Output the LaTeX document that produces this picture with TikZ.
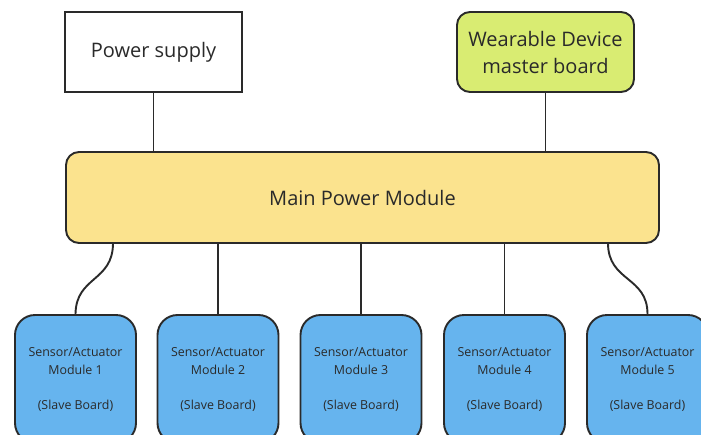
\documentclass[tikz,border=0pt]{standalone}
\usepackage{fontspec}
\setmainfont{Open Sans}
\definecolor{inkgray}{HTML}{2A2A2A}
\definecolor{mainyellow}{HTML}{FBE38E}
\definecolor{mastergreen}{HTML}{D9EC72}
\definecolor{slaveblue}{HTML}{66B4EE}
\begin{document}
\begin{tikzpicture}[x=1pt,y=-1pt,
  box/.style={draw=inkgray,line width=1.9pt,text=inkgray,align=center,inner sep=0pt},
  wire/.style={draw=inkgray,line width=1.9pt},
  slave/.style={box,fill=slaveblue,rounded corners=20pt,minimum width=121pt,minimum height=128pt,font=\fontsize{12.4}{18}\selectfont}]
\useasboundingbox (0,0) rectangle (701,434);
\fill[white] (0,0) rectangle (701,434);
% upper boxes
\node[box,minimum width=177pt,minimum height=80pt,font=\fontsize{20}{27}\selectfont] (ps) at (153.5,52) {\raisebox{-3pt}{Power supply}};
\node[box,fill=mastergreen,rounded corners=13pt,minimum width=177pt,minimum height=80pt,font=\fontsize{20}{27}\selectfont] (wd) at (545.5,52) {Wearable Device\\master board};
% main power module
\node[box,fill=mainyellow,rounded corners=13pt,minimum width=593pt,minimum height=91pt,font=\fontsize{20}{24}\selectfont] (main) at (362.5,197.5) {\raisebox{-2pt}{Main Power Module}};
% slave boards
\node[slave] (m1) at (75.5,379) {Sensor/Actuator\\Module 1\\[17pt](Slave Board)};
\node[slave] (m2) at (218,379) {Sensor/Actuator\\Module 2\\[17pt](Slave Board)};
\node[slave] (m3) at (361,379) {Sensor/Actuator\\Module 3\\[17pt](Slave Board)};
\node[slave] (m4) at (504.5,379) {Sensor/Actuator\\Module 4\\[17pt](Slave Board)};
\node[slave] (m5) at (647.5,379) {Sensor/Actuator\\Module 5\\[17pt](Slave Board)};
% connection points on the main module
\coordinate (t1) at (113,243);
\coordinate (t5) at (608,243);
% wires
\draw[wire] (ps.south) -- (ps.south |- main.north);
\draw[wire] (wd.south) -- (wd.south |- main.north);
\draw[wire] (t1) .. controls (113,282) and (76,276) .. (m1.north);
\draw[wire] (m2.north |- main.south) -- (m2.north);
\draw[wire] (m3.north |- main.south) -- (m3.north);
\draw[wire] (m4.north |- main.south) -- (m4.north);
\draw[wire] (t5) .. controls (608,282) and (647.5,276) .. (m5.north);
\end{tikzpicture}
\end{document}
